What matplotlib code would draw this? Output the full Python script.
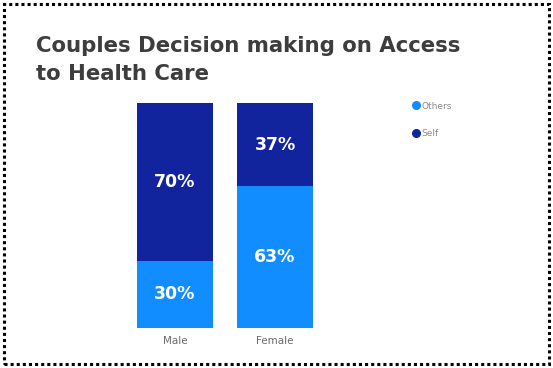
import matplotlib
matplotlib.use("Agg")
import matplotlib.pyplot as plt
from matplotlib.patches import Rectangle
from matplotlib.lines import Line2D

# Share of decisions by respondent group (percent)
groups = ["Male", "Female"]
others_pct = [30, 63]
self_pct = [70, 37]
series_names = ["Others", "Self"]
title_lines = ["Couples Decision making on Access", "to Health Care"]

OTHERS_COLOR = "#118DFF"
SELF_COLOR = "#12239E"

W, H = 553, 368
fig = plt.figure(figsize=(W / 100, H / 100), dpi=100)

# Dotted frame around the whole tile
frame = Rectangle((4 / W, 4 / H), (W - 8) / W, (H - 8) / H,
                  transform=fig.transFigure, fill=False, edgecolor="black",
                  linewidth=2.2, linestyle=(0, (1, 1)))
fig.patches.append(frame)

# Two-line title, placed by baseline
for line, base_y in zip(title_lines, [52, 80]):
    fig.text(36 / W, 1 - base_y / H, line, fontsize=15.3, fontweight="bold",
             color="#3d3d3d", va="baseline", ha="left")

ax = fig.add_axes([137 / W, 1 - 328 / H, 176 / W, 225 / H])
x = range(len(groups))
bottoms = [o / 100 for o in others_pct]
b1 = ax.bar(x, [o / 100 for o in others_pct], width=0.76, color=OTHERS_COLOR)
b2 = ax.bar(x, [s / 100 for s in self_pct], width=0.76, bottom=bottoms, color=SELF_COLOR)

for bars, vals in [(b1, others_pct), (b2, self_pct)]:
    for bar, v in zip(bars, vals):
        cx = bar.get_x() + bar.get_width() / 2
        cy = bar.get_y() + bar.get_height() / 2
        ax.text(cx, cy, f"{v}%", ha="center", va="center", color="white",
                fontsize=12.5, fontweight="bold")

ax.set_xlim(-0.38, 1.38)
ax.set_ylim(0, 1)
ax.set_xticks(list(x))
ax.set_xticklabels(groups, fontsize=7.5, color="#6a6a6a")
ax.tick_params(axis="x", length=0, pad=6)
ax.set_yticks([])
for s in ax.spines.values():
    s.set_visible(False)

handles = [Line2D([], [], marker="o", linestyle="", markersize=5.5, color=OTHERS_COLOR),
           Line2D([], [], marker="o", linestyle="", markersize=5.5, color=SELF_COLOR)]
fig.legend(handles, series_names, loc="upper left",
           bbox_to_anchor=(408 / W, 1 - 98 / H), frameon=False, fontsize=6.5,
           labelcolor="#8a8a8a", handletextpad=0.05, handlelength=1,
           labelspacing=2.0, borderaxespad=0)

fig.savefig("out.png", dpi=100)
